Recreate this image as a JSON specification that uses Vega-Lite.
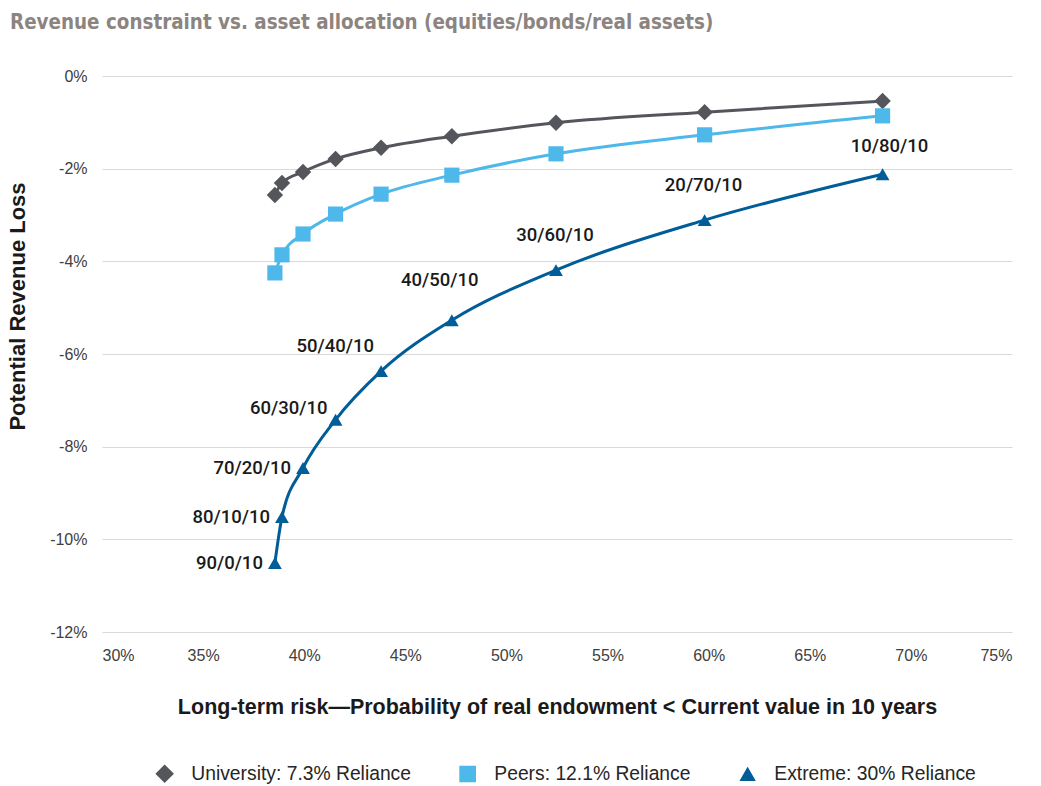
{
  "$schema": "https://vega.github.io/schema/vega-lite/v6.json",
  "width": 910,
  "height": 556,
  "autosize": "none",
  "padding": {"left": 102, "top": 76, "right": 29, "bottom": 154},
  "background": "white",
  "config": {"view": {"stroke": null}},
  "title": {
    "text": "Revenue constraint vs. asset allocation (equities/bonds/real assets)",
    "anchor": "start",
    "frame": "group",
    "baseline": "alphabetic",
    "offset": 19,
    "dx": -92,
    "font": "DejaVu Sans Condensed",
    "fontSize": 20.4,
    "fontWeight": "bold",
    "color": "#8c847f"
  },
  "data": {
    "values": [
      {"series": "University: 7.3% Reliance", "risk": 38.55, "loss": -2.57, "alloc": "90/0/10"},
      {"series": "University: 7.3% Reliance", "risk": 38.9, "loss": -2.31, "alloc": "80/10/10"},
      {"series": "University: 7.3% Reliance", "risk": 39.94, "loss": -2.07, "alloc": "70/20/10"},
      {"series": "University: 7.3% Reliance", "risk": 41.55, "loss": -1.79, "alloc": "60/30/10"},
      {"series": "University: 7.3% Reliance", "risk": 43.8, "loss": -1.55, "alloc": "50/40/10"},
      {"series": "University: 7.3% Reliance", "risk": 47.3, "loss": -1.3, "alloc": "40/50/10"},
      {"series": "University: 7.3% Reliance", "risk": 52.45, "loss": -1.01, "alloc": "30/60/10"},
      {"series": "University: 7.3% Reliance", "risk": 59.8, "loss": -0.78, "alloc": "20/70/10"},
      {"series": "University: 7.3% Reliance", "risk": 68.6, "loss": -0.54, "alloc": "10/80/10"},
      {"series": "Peers: 12.1% Reliance", "risk": 38.55, "loss": -4.25, "alloc": "90/0/10"},
      {"series": "Peers: 12.1% Reliance", "risk": 38.9, "loss": -3.86, "alloc": "80/10/10"},
      {"series": "Peers: 12.1% Reliance", "risk": 39.94, "loss": -3.41, "alloc": "70/20/10"},
      {"series": "Peers: 12.1% Reliance", "risk": 41.55, "loss": -2.98, "alloc": "60/30/10"},
      {"series": "Peers: 12.1% Reliance", "risk": 43.8, "loss": -2.55, "alloc": "50/40/10"},
      {"series": "Peers: 12.1% Reliance", "risk": 47.3, "loss": -2.14, "alloc": "40/50/10"},
      {"series": "Peers: 12.1% Reliance", "risk": 52.45, "loss": -1.68, "alloc": "30/60/10"},
      {"series": "Peers: 12.1% Reliance", "risk": 59.8, "loss": -1.27, "alloc": "20/70/10"},
      {"series": "Peers: 12.1% Reliance", "risk": 68.6, "loss": -0.86, "alloc": "10/80/10"},
      {"series": "Extreme: 30% Reliance", "risk": 38.55, "loss": -10.51, "alloc": "90/0/10"},
      {"series": "Extreme: 30% Reliance", "risk": 38.9, "loss": -9.52, "alloc": "80/10/10"},
      {"series": "Extreme: 30% Reliance", "risk": 39.94, "loss": -8.46, "alloc": "70/20/10"},
      {"series": "Extreme: 30% Reliance", "risk": 41.55, "loss": -7.42, "alloc": "60/30/10"},
      {"series": "Extreme: 30% Reliance", "risk": 43.8, "loss": -6.37, "alloc": "50/40/10"},
      {"series": "Extreme: 30% Reliance", "risk": 47.3, "loss": -5.27, "alloc": "40/50/10"},
      {"series": "Extreme: 30% Reliance", "risk": 52.45, "loss": -4.19, "alloc": "30/60/10"},
      {"series": "Extreme: 30% Reliance", "risk": 59.8, "loss": -3.11, "alloc": "20/70/10"},
      {"series": "Extreme: 30% Reliance", "risk": 68.6, "loss": -2.12, "alloc": "10/80/10"}
    ]
  },
  "encoding": {
    "x": {
      "field": "risk", "type": "quantitative",
      "scale": {"domain": [30, 75], "nice": false, "zero": false},
      "axis": {
        "values": [30, 35, 40, 45, 50, 55, 60, 65, 70, 75],
        "labelExpr": "datum.value + '%'",
        "grid": false, "domain": false, "ticks": false,
        "labelPadding": 15,
        "labelFont": "Liberation Sans", "labelFontSize": 16, "labelColor": "#404040",
        "title": "Long-term risk\u2014Probability of real endowment < Current value in 10 years",
        "titleFont": "Liberation Sans", "titleFontSize": 21.5, "titleFontWeight": "bold",
        "titleColor": "#1a1a1a", "titlePadding": 33
      }
    },
    "y": {
      "field": "loss", "type": "quantitative",
      "scale": {"domain": [-12, 0], "nice": false, "zero": false},
      "axis": {
        "values": [-12, -10, -8, -6, -4, -2, 0],
        "labelExpr": "datum.value + '%'",
        "grid": true, "gridColor": "#d9d9d9", "gridWidth": 1,
        "domain": false, "ticks": false,
        "labelPadding": 15,
        "labelFont": "Liberation Sans", "labelFontSize": 16, "labelColor": "#404040",
        "title": "Potential Revenue Loss",
        "titleFont": "Liberation Sans", "titleFontSize": 22, "titleFontWeight": "bold",
        "titleColor": "#1a1a1a",
        "titleX": -85, "titleY": 230, "titleAlign": "center", "titleBaseline": "middle", "titleAngle": -90
      }
    }
  },
  "layer": [
    {
      "mark": {"type": "line", "interpolate": "monotone", "strokeWidth": 3},
      "encoding": {
        "color": {
          "field": "series", "type": "nominal",
          "scale": {
            "domain": ["University: 7.3% Reliance", "Peers: 12.1% Reliance", "Extreme: 30% Reliance"],
            "range": ["#54565b", "#4db8e9", "#005d98"]
          }
        },
        "order": {"field": "risk", "type": "quantitative"}
      }
    },
    {
      "mark": {"type": "point", "filled": true, "opacity": 1},
      "encoding": {
        "color": {
          "field": "series", "type": "nominal",
          "legend": {
            "title": null,
            "orient": "none",
            "direction": "horizontal",
            "legendX": 53,
            "legendY": 688,
            "padding": 0,
            "symbolSize": 178,
            "labelOffset": 17,
            "labelLimit": 400,
            "columnPadding": 46,
            "labelFont": "Liberation Sans",
            "labelFontSize": 19.3,
            "labelColor": "#262626"
          }
        },
        "shape": {
          "field": "series", "type": "nominal", "legend": null,
          "scale": {
            "domain": ["University: 7.3% Reliance", "Peers: 12.1% Reliance", "Extreme: 30% Reliance"],
            "range": ["diamond", "square", "triangle-up"]
          }
        },
        "size": {
          "field": "series", "type": "nominal", "legend": null,
          "scale": {
            "domain": ["University: 7.3% Reliance", "Peers: 12.1% Reliance", "Extreme: 30% Reliance"],
            "range": [270, 190, 200]
          }
        }
      }
    },
    {
      "transform": [{"filter": "datum.series == 'Extreme: 30% Reliance' && indexof(['90/0/10','80/10/10','70/20/10'], datum.alloc) >= 0"}],
      "mark": {"type": "text", "align": "right", "baseline": "middle", "dx": -12, "dy": 0, "font": "Roboto", "fontWeight": 500, "fontSize": 18.5},
      "encoding": {"text": {"field": "alloc"}, "color": {"value": "#1a1a1a"}}
    },
    {
      "transform": [{"filter": "datum.series == 'Extreme: 30% Reliance' && datum.alloc == '60/30/10'"}],
      "mark": {"type": "text", "align": "right", "baseline": "middle", "dx": -8, "dy": -12, "font": "Roboto", "fontWeight": 500, "fontSize": 18.5},
      "encoding": {"text": {"field": "alloc"}, "color": {"value": "#1a1a1a"}}
    },
    {
      "transform": [{"filter": "datum.series == 'Extreme: 30% Reliance' && datum.alloc == '50/40/10'"}],
      "mark": {"type": "text", "align": "right", "baseline": "middle", "dx": -7, "dy": -25, "font": "Roboto", "fontWeight": 500, "fontSize": 18.5},
      "encoding": {"text": {"field": "alloc"}, "color": {"value": "#1a1a1a"}}
    },
    {
      "transform": [{"filter": "datum.series == 'Extreme: 30% Reliance' && datum.alloc == '40/50/10'"}],
      "mark": {"type": "text", "align": "center", "baseline": "middle", "dx": -12, "dy": -40, "font": "Roboto", "fontWeight": 500, "fontSize": 18.5},
      "encoding": {"text": {"field": "alloc"}, "color": {"value": "#1a1a1a"}}
    },
    {
      "transform": [{"filter": "datum.series == 'Extreme: 30% Reliance' && indexof(['30/60/10','20/70/10'], datum.alloc) >= 0"}],
      "mark": {"type": "text", "align": "center", "baseline": "middle", "dx": -1, "dy": -35, "font": "Roboto", "fontWeight": 500, "fontSize": 18.5},
      "encoding": {"text": {"field": "alloc"}, "color": {"value": "#1a1a1a"}}
    },
    {
      "transform": [{"filter": "datum.series == 'Extreme: 30% Reliance' && datum.alloc == '10/80/10'"}],
      "mark": {"type": "text", "align": "center", "baseline": "middle", "dx": 7, "dy": -28, "font": "Roboto", "fontWeight": 500, "fontSize": 18.5},
      "encoding": {"text": {"field": "alloc"}, "color": {"value": "#1a1a1a"}}
    }
  ]
}
